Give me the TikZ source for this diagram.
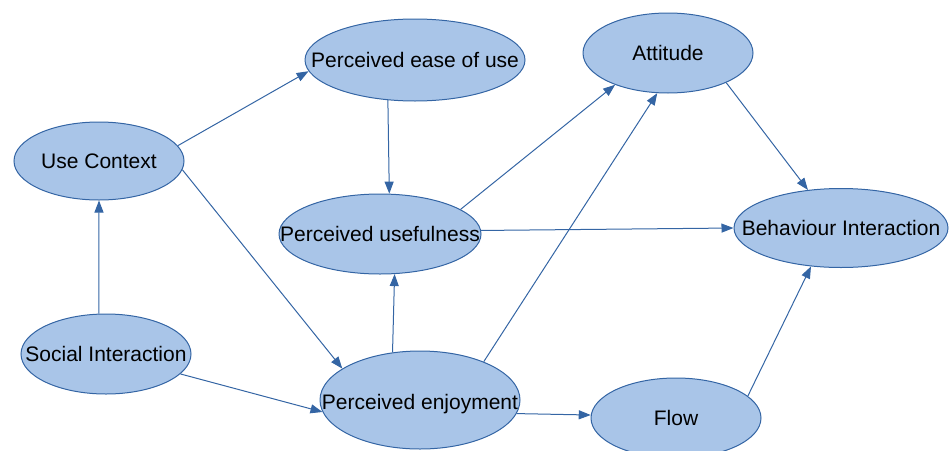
\documentclass[tikz,border=0pt]{standalone}
\usepackage{fontspec}
\setmainfont{Liberation Sans}
\usetikzlibrary{arrows.meta,shapes.geometric}
\definecolor{boxfill}{HTML}{A9C5E8}
\definecolor{boxline}{HTML}{3465A4}

\begin{document}
\begin{tikzpicture}[x=1pt,y=-1pt,
    construct/.style={ellipse,draw=boxline,fill=boxfill,line width=1pt,inner sep=0pt,font=\fontsize{21}{25}\selectfont},
    link/.style={draw=boxline,line width=1pt,-{Triangle[length=12pt,width=9pt]}}]
  \path[use as bounding box,clip] (0,0) rectangle (949,450);
  % constructs
  \node[construct,minimum width=170pt,minimum height=78pt] (uc) at (99,161) {\makebox[0pt]{Use Context}};
  \node[construct,minimum width=220pt,minimum height=82pt] (peu) at (415,60) {\makebox[0pt]{Perceived ease of use}};
  \node[construct,minimum width=170pt,minimum height=80pt] (att) at (668,53) {\makebox[0pt]{Attitude}};
  \node[construct,minimum width=202pt,minimum height=80pt] (pu) at (380,234) {\makebox[0pt]{Perceived usefulness}};
  \node[construct,minimum width=214pt,minimum height=79pt] (bi) at (841,228) {\makebox[0pt]{Behaviour Interaction}};
  \node[construct,minimum width=170pt,minimum height=80pt] (si) at (106,354) {\makebox[0pt]{Social Interaction}};
  \node[construct,minimum width=200pt,minimum height=98pt,text height=23pt,text depth=4pt] (pe) at (420,400) {\makebox[0pt]{Perceived enjoyment}};
  \node[construct,minimum width=170pt,minimum height=80pt] (flow) at (676,418) {\makebox[0pt]{Flow}};
  % paths
  \draw[link] (uc.11) -- (peu.186);
  \draw[link] (uc.354) -- (pe.158);
  \draw[link] (si.100) -- (uc.270);
  \draw[link] (si.345) -- (pe.187);
  \draw[link] (pe.120) -- (pu.290);
  \draw[link] (peu.236) -- (pu.77);
  \draw[link] (pu.17) -- (att.211);
  \draw[link] (pe.31) -- (att.255);
  \draw[link] (pu.2) -- (bi.180);
  \draw[link] (att.333) -- (bi.131);
  \draw[link] (flow.17) -- (bi.232);
  \draw[link] (pe.352) -- (flow.178);
\end{tikzpicture}
\end{document}
